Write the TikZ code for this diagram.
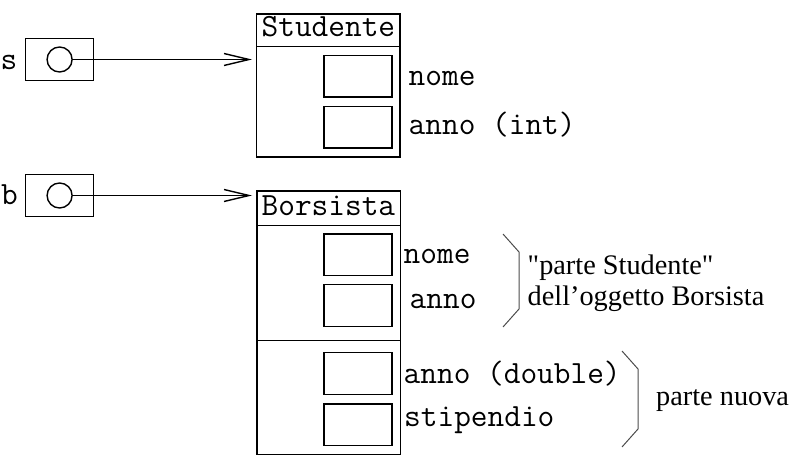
\documentclass[tikz,border=0pt]{standalone}
\usepackage{fontspec}
\setmainfont{Liberation Serif}[Ligatures=TeXOff]
\usetikzlibrary{arrows.meta}
\begin{document}
\begin{tikzpicture}[x=1pt,y=-1pt,
  varbox/.style={draw,line width=1.4pt,rectangle,inner sep=0pt,minimum width=68pt,minimum height=41.5pt},
  refcirc/.style={draw,line width=1.4pt,circle,inner sep=0pt,minimum size=25pt},
  objframe/.style={draw,line width=1.5pt,rectangle,inner sep=0pt,minimum width=143.5pt},
  cell/.style={draw,line width=1.4pt,rectangle,inner sep=0pt,minimum width=68pt,minimum height=41.5pt},
  mono/.style={font=\fontsize{32.4}{34}\selectfont\ttfamily,inner sep=0pt,anchor=base west},
  objtitle/.style={font=\fontsize{32.4}{34}\selectfont\ttfamily,inner sep=0pt,anchor=base},
  serif/.style={font=\fontsize{28.3}{30}\selectfont\rmfamily,inner sep=0pt,anchor=base west},
  pointer/.style={line width=1.5pt,-{Straight Barb[length=25pt,width=12pt,line width=1.4pt]}},
  bracket/.style={line width=1pt,draw=black!70},
  sepline/.style={line width=1pt}]
\useasboundingbox (0,0) rectangle (799,457);

% variables
\node[varbox] (sbox) at (59.6,59.5) {};
\node[refcirc] (scirc) at (59.6,59.5) {};
\node[mono] (slab) at (0.5,70) {s};
\node[varbox] (bbox) at (59.6,195.5) {};
\node[refcirc] (bcirc) at (59.6,195.5) {};
\node[mono] (blab) at (1,204) {b};

% Studente object
\node[objframe,minimum height=143pt] (stud) at (328.4,85.5) {};
\draw[sepline] (256.75,46.5) -- (400,46.5);
\node[objtitle] (studtitle) at (328.4,36.6) {Studente};
\node[cell] (sc1) at (358,76.4) {};
\node[cell] (sc2) at (358,127.2) {};
\node[mono] (snome) at (408.5,86) {nome};
\node[mono] (sanno) at (408.5,135) {anno (int)};

% Borsista object
\node[objframe,minimum height=263.5pt] (bors) at (328.5,322.5) {};
\draw[sepline] (256.75,225.7) -- (400.25,225.7);
\draw[sepline] (256.75,340) -- (400.25,340);
\node[objtitle] (borstitle) at (328.4,215.7) {Borsista};
\node[cell] (bc1) at (358,254.9) {};
\node[cell] (bc2) at (358,305.5) {};
\node[cell] (bc3) at (358,373.5) {};
\node[cell] (bc4) at (358,424.7) {};
\node[mono] (bnome) at (403.5,263.3) {nome};
\node[mono] (banno) at (409.5,308.4) {anno};
\node[mono] (banno2) at (403.5,383.3) {anno (double)};
\node[mono] (bstip) at (404,426.7) {stipendio};

% pointers
\coordinate (stip) at (252,59.5);
\coordinate (btip) at (252,195.5);
\draw[pointer] (scirc.east) -- (stip);
\draw[pointer] (bcirc.east) -- (btip);

% brackets
\draw[bracket] (503,234) -- (519,252) -- (519,309) -- (503,327);
\draw[bracket] (622,351) -- (638,369) -- (638,429) -- (622,447);
\node[serif] (ps1) at (527.5,274) {"parte Studente"};
\node[serif] (ps2) at (527.5,305) {dell’oggetto Borsista};
\node[serif] (pn) at (656,405) {parte nuova};
\end{tikzpicture}
\end{document}
